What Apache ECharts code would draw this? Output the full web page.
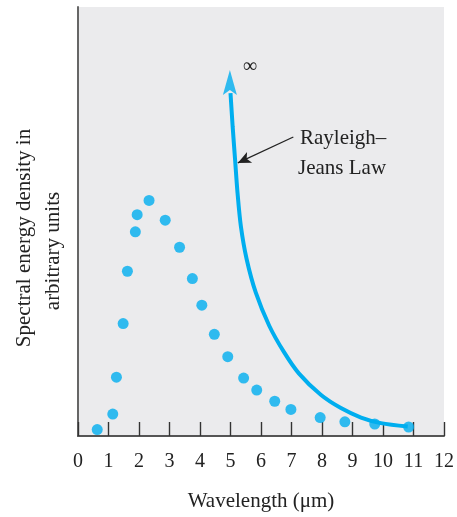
<!DOCTYPE html>
<html>
<head>
<meta charset="utf-8">
<script src="https://cdn.jsdelivr.net/npm/echarts@6/dist/echarts.min.js"></script>
<style>
html,body{margin:0;padding:0;background:#fff;}
#chart{width:457px;height:517px;}
</style>
</head>
<body>
<div id="chart"></div>
<script>
// Measured spectrum (dots)
var wavelengths = [0.63, 1.14, 1.26, 1.48, 1.62, 1.88, 1.94, 2.33, 2.86, 3.33, 3.75, 4.06, 4.47, 4.91, 5.43, 5.86, 6.45, 6.98, 7.94, 8.75, 9.73, 10.84];
var densities   = [1.5, 5.1, 13.7, 26.2, 38.4, 47.6, 51.6, 54.9, 50.3, 44.0, 36.7, 30.5, 23.7, 18.5, 13.5, 10.7, 8.1, 6.2, 4.3, 3.3, 2.8, 2.1];
// Rayleigh–Jeans curve
var rjWavelengths = [5.00, 5.07, 5.15, 5.23, 5.34, 5.53, 5.83, 6.27, 6.75, 7.24, 7.96, 8.62, 9.28, 9.93, 10.81];
var rjValues      = [79.9, 72.2, 64.4, 56.7, 48.9, 41.2, 33.4, 25.7, 19.6, 14.6, 9.6, 6.5, 4.3, 3.0, 2.2];
// arrowhead at the top of the curve
var rjArrow = [4.98, 82.4];
// x tick labels
var xTickLabels = ['0','1','2','3','4','5','6','7','8','9','10','11','12'];
// annotation pointer (from label to curve)
var pointerFrom = [7.06, 69.7];
var pointerTo = [5.24, 63.65];

var CYAN = '#00aeef';
var SERIF = '"Liberation Serif","DejaVu Serif",serif';

var dots = wavelengths.map(function (w, i) { return [w, densities[i]]; });
var rj = rjWavelengths.map(function (w, i) { return [w, rjValues[i]]; });

var chart = echarts.init(document.getElementById('chart'), null, {renderer: 'canvas'});
chart.setOption({
  animation: false,
  backgroundColor: '#ffffff',
  grid: {
    left: 78, right: 13, top: 7, bottom: 80,
    show: true, backgroundColor: '#ebebed', borderWidth: 0
  },
  xAxis: {
    type: 'value', min: 0, max: 12, interval: 1,
    name: 'Wavelength (\u03bcm)', nameLocation: 'middle', nameGap: 55,
    nameTextStyle: {fontFamily: SERIF, fontSize: 21, color: '#222'},
    axisLine: {show: true, onZero: false, lineStyle: {color: '#555', width: 2}},
    axisTick: {show: true, inside: true, length: 14, lineStyle: {color: '#333', width: 1.4}},
    axisLabel: {
      fontFamily: SERIF, fontSize: 20, color: '#222', margin: 16,
      formatter: function (v) { return xTickLabels[Math.round(v)]; }
    },
    splitLine: {show: false}
  },
  yAxis: {
    type: 'value', min: 0, max: 100,
    axisLine: {show: true, onZero: false, lineStyle: {color: '#666', width: 2}},
    axisTick: {show: false},
    axisLabel: {show: false},
    splitLine: {show: false}
  },
  graphic: [
    {type: 'text', x: 24, y: 238, rotation: Math.PI / 2,
     style: {text: 'Spectral energy density in', font: '21px ' + SERIF, fill: '#222', align: 'center', verticalAlign: 'middle'}},
    {type: 'text', x: 53, y: 251, rotation: Math.PI / 2,
     style: {text: 'arbitrary units', font: '21px ' + SERIF, fill: '#222', align: 'center', verticalAlign: 'middle'}},
    {type: 'text', x: 250, y: 67,
     style: {text: '\u221e', font: '20px ' + SERIF, fill: '#222', align: 'center', verticalAlign: 'middle'}},
    {type: 'text', x: 300, y: 138,
     style: {text: 'Rayleigh\u2013', font: '21px ' + SERIF, fill: '#222', align: 'left', verticalAlign: 'middle'}},
    {type: 'text', x: 298, y: 168,
     style: {text: 'Jeans Law', font: '21px ' + SERIF, fill: '#222', align: 'left', verticalAlign: 'middle'}}
  ],
  series: [
    {
      type: 'line', data: rj, smooth: 0.3, showSymbol: false, symbol: 'none',
      lineStyle: {color: CYAN, width: 4}, z: 2,
      markLine: {
        silent: true, symbol: ['none', 'arrow'], symbolSize: [9, 13],
        label: {show: false},
        lineStyle: {color: '#222', width: 1.3, type: 'solid'},
        data: [[{coord: pointerFrom}, {coord: pointerTo}]]
      }
    },
    {
      type: 'scatter', data: [rjArrow], symbol: 'path://M7,0 L14,25 L7,20 L0,25 Z',
      symbolSize: [14, 25], itemStyle: {color: CYAN}, z: 3
    },
    {
      type: 'scatter', data: dots, symbol: 'circle', symbolSize: 11,
      itemStyle: {color: CYAN}, z: 4
    }
  ]
});
</script>
</body>
</html>
